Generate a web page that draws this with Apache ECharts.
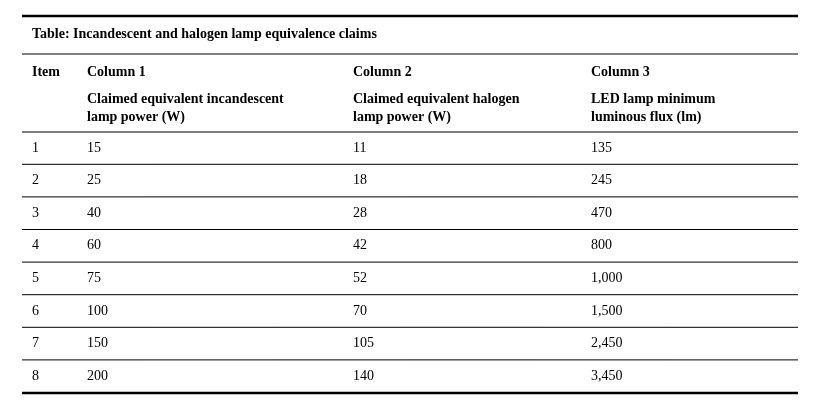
<!DOCTYPE html>
<html><head><meta charset="utf-8">
<script src="https://cdn.jsdelivr.net/npm/echarts@6/dist/echarts.min.js"></script>
<style>html,body{margin:0;padding:0;background:#fff}#c{width:820px;height:407px}</style>
</head><body><div id="c"></div>
<script>
const title = "Table: Incandescent and halogen lamp equivalence claims";
const headers = ["Item", "Column 1", "Column 2", "Column 3"];
const subHeaders = ["", "Claimed equivalent incandescent\nlamp power (W)", "Claimed equivalent halogen\nlamp power (W)", "LED lamp minimum\nluminous flux (lm)"];
const items = ["1","2","3","4","5","6","7","8"];
const incandescent = ["15","25","40","60","75","100","150","200"];
const halogen = ["11","18","28","42","52","70","105","140"];
const ledFlux = ["135","245","470","800","1,000","1,500","2,450","3,450"];

const colX = [32, 87, 353, 591];
const left = 22, right = 798;
const font = '"Liberation Serif","Times New Roman",serif';
const g = [];
function line(y, w) { g.push({type:'line', shape:{x1:left,y1:y,x2:right,y2:y}, style:{stroke:'#000', lineWidth:w}}); }
function text(x, y, t, bold) { g.push({type:'text', x:x, y:y, style:{text:t, font:(bold?'bold ':'')+'14px '+font, fill:'#000', textVerticalAlign:'middle', lineHeight:18}}); }
line(16, 2.5);
text(32, 34, title, true);
line(54, 1);
headers.forEach((h,i)=>text(colX[i], 72, h, true));
subHeaders.forEach((h,i)=>{ if(h) g.push({type:'text', x:colX[i], y:90, style:{text:h, font:'bold 14px '+font, fill:'#000', lineHeight:18}}); });
line(132, 1);
const rowH = 32.6, y0 = 148;
items.forEach((it, r) => {
  const y = y0 + r*rowH;
  [it, incandescent[r], halogen[r], ledFlux[r]].forEach((v,i)=>text(colX[i], y, v, false));
  if (r < items.length-1) line(y + rowH/2, 1);
});
line(393, 2.5);
const chart = echarts.init(document.getElementById('c'));
chart.setOption({animation:false, graphic:g});
</script></body></html>
